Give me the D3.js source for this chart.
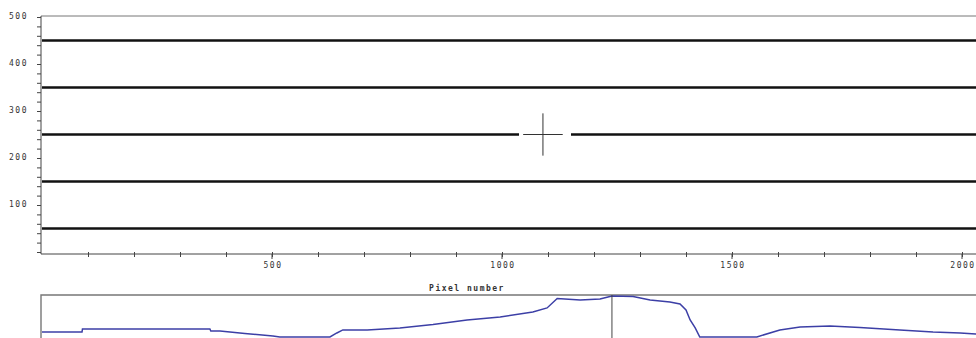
<!DOCTYPE html>
<html><head><meta charset="utf-8">
<script src="https://cdn.jsdelivr.net/npm/d3@7"></script>
<style>
html,body{margin:0;padding:0;background:#fff;}
svg{display:block;}
text{font-family:"DejaVu Sans Mono","Liberation Mono",monospace;font-size:8px;fill:#333;letter-spacing:1.5px;}
</style></head>
<body>
<script>
// ---- data ----
const lineLevels = [450, 350, 250, 150, 50];
const crosshair = {x: 1089, y: 250, dx: 43, dy: 45};
const gapStart = 1037, gapEnd = 1150;
const yTicks = [100, 200, 300, 400, 500];
const xTicks = [500, 1000, 1500, 2000];
const xLabel = "Pixel number";
const profileX = [0, 87, 88, 235, 365, 367, 387, 441, 502, 517, 626, 641, 654, 707, 778, 850, 924, 996, 1067, 1098, 1120, 1170, 1213, 1239, 1285, 1322, 1365, 1387, 1400, 1409, 1420, 1430, 1554, 1604, 1648, 1713, 1778, 1865, 1937, 1996, 2030, 2048];
const profileV = [36, 36, 54, 54, 54, 42, 42, 27, 12, 6, 6, 30, 48, 48, 60, 80, 107, 125, 155, 179, 235, 226, 232, 250, 247, 226, 214, 202, 167, 107, 60, 6, 6, 48, 65, 71, 62, 48, 36, 30, 24, 24];
const markerX = 1239;

// ---- layout ----
const W = 976, H = 338;
const svg = d3.select("body").append("svg").attr("width", W).attr("height", H);

const x = d3.scaleLinear().domain([0, 2048]).range([42, 42 + 2048 * 0.46]);
const y = d3.scaleLinear().domain([0, 500]).range([252, 17]);
const y2 = d3.scaleLinear().domain([0, 250]).range([338, 296]);

// main plot frame
svg.append("line").attr("x1", 41).attr("x2", W).attr("y1", 16).attr("y2", 16)
  .attr("stroke", "#777").attr("stroke-width", 1);

// horizontal bars
lineLevels.forEach(v => {
  const yy = y(v);
  if (v === crosshair.y) {
    svg.append("line").attr("x1", x(0)).attr("x2", x(gapStart)).attr("y1", yy).attr("y2", yy)
      .attr("stroke", "#111").attr("stroke-width", 2.6);
    svg.append("line").attr("x1", x(gapEnd)).attr("x2", x(2048)).attr("y1", yy).attr("y2", yy)
      .attr("stroke", "#111").attr("stroke-width", 2.6);
  } else {
    svg.append("line").attr("x1", x(0)).attr("x2", x(2048)).attr("y1", yy).attr("y2", yy)
      .attr("stroke", "#111").attr("stroke-width", 2.6);
  }
});

// crosshair
svg.append("line").attr("x1", x(crosshair.x - crosshair.dx)).attr("x2", x(crosshair.x + crosshair.dx))
  .attr("y1", y(crosshair.y)).attr("y2", y(crosshair.y)).attr("stroke", "#333").attr("stroke-width", 1);
svg.append("line").attr("x1", x(crosshair.x)).attr("x2", x(crosshair.x))
  .attr("y1", y(crosshair.y - crosshair.dy)).attr("y2", y(crosshair.y + crosshair.dy)).attr("stroke", "#333").attr("stroke-width", 1);

// y axis
const yAxisG = svg.append("g").attr("transform", "translate(41,0)");
yAxisG.call(d3.axisLeft(y).tickValues(d3.range(0, 501, 20)).tickSize(4).tickFormat(""));
yAxisG.select(".domain").attr("stroke", "#444").attr("d", `M0,${16}V${254}`);
yAxisG.selectAll(".tick line").attr("stroke", "#444");
yTicks.forEach(v => {
  svg.append("text").attr("x", 28).attr("y", y(v) - 1).attr("text-anchor", "end")
    .attr("dominant-baseline", "middle").text(v);
});

// x axis
const xAxisG = svg.append("g").attr("transform", "translate(0,254)");
xAxisG.call(d3.axisBottom(x).tickValues(d3.range(100, 2048, 100)).tickSize(3).tickFormat(""));
xAxisG.select(".domain").attr("stroke", "#444").attr("d", `M41,0H${W}`);
xAxisG.selectAll(".tick line").attr("stroke", "#444").attr("y1", -2);
xTicks.forEach(v => {
  svg.append("line").attr("x1", x(v)).attr("x2", x(v)).attr("y1", 254).attr("y2", 259)
    .attr("stroke", "#444");
  svg.append("text").attr("x", x(v) + 1).attr("y", 265).attr("text-anchor", "middle")
    .attr("dominant-baseline", "middle").text(v);
});
svg.append("text").attr("x", 467).attr("y", 288).attr("text-anchor", "middle")
  .attr("dominant-baseline", "middle").style("font-weight", "bold").text(xLabel);

// bottom panel
svg.append("path").attr("d", `M41,${H}V295H${W}`).attr("fill", "none")
  .attr("stroke", "#777").attr("stroke-width", 1.4);
const profile = profileX.map((d, i) => [d, profileV[i]]);
svg.append("path").datum(profile)
  .attr("d", d3.line().x(d => x(d[0])).y(d => y2(d[1])))
  .attr("fill", "none").attr("stroke", "#3c3fa6").attr("stroke-width", 1.5);
svg.append("line").attr("x1", x(markerX)).attr("x2", x(markerX)).attr("y1", 295).attr("y2", H)
  .attr("stroke", "#444").attr("stroke-width", 1);
</script>
</body></html>
